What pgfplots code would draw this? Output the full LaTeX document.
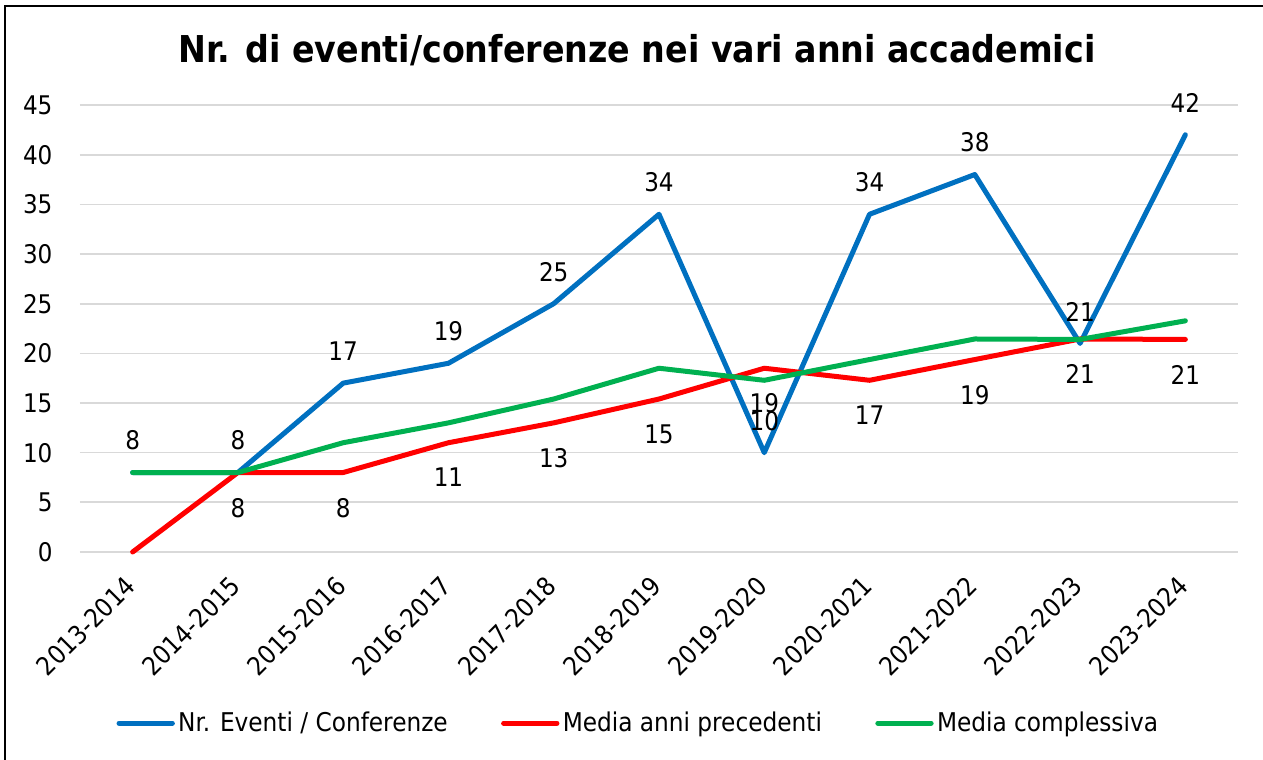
\documentclass[border=0pt]{standalone}
\usepackage{fontspec}
\setmainfont{DejaVu Sans Condensed}
\usepackage{pgfplots}
\pgfplotsset{compat=1.18}
\definecolor{cblue}{HTML}{0070C0}
\definecolor{cred}{HTML}{FF0000}
\definecolor{cgreen}{HTML}{00B050}
\definecolor{cgrid}{HTML}{D9D9D9}
\begin{document}
\begin{tikzpicture}[x=0.6pt,y=0.6pt]
\path[use as bounding box] (0,0) rectangle (1263,760);
\draw[line width=1.2pt] (5,0) -- (5,754) -- (1263,754);
\node[font=\fontsize{22.2}{26}\selectfont\bfseries] at (637,710) {Nr. di eventi/conferenze nei vari anni accademici};
\begin{axis}[
  at={(48pt,124.8pt)}, anchor=south west,
  scale only axis, width=694.8pt, height=268.2pt,
  xmin=-0.5, xmax=10.5, ymin=0, ymax=45,
  ytick={0,5,...,45},
  xtick={0,...,10},
  xticklabels={2013-2014,2014-2015,2015-2016,2016-2017,2017-2018,2018-2019,2019-2020,2020-2021,2021-2022,2022-2023,2023-2024},
  /pgf/number format/assume math mode=true,
  ticklabel style={font=\fontsize{15.4}{17}\selectfont},
  xticklabel style={rotate=45, anchor=north east, xshift=-10pt, yshift=-2.2pt},
  yticklabel style={xshift=-13pt},
  ymajorgrids, major grid style={draw=cgrid, line width=1pt},
  axis line style={draw=none}, major tick style={draw=none},
  clip=false,
  every axis plot/.append style={line width=3pt, line cap=round, line join=round},
  legend columns=3,
  legend style={at={(0.4827,-0.383)}, anchor=center, draw=none, fill=none,
    font=\fontsize{15.5}{17}\selectfont, /tikz/every even column/.append style={column sep=30pt}},
  legend image code/.code={\draw[#1, line width=3pt] (0pt,0pt) -- (32pt,0pt);},
  legend cell align=left,
  nodes near coords style={font=\fontsize{15.4}{17}\selectfont, text=black},
]
\addplot[color=cblue, point meta=explicit symbolic, nodes near coords,
  every node near coord/.append style={anchor=south, yshift=8.5pt}]
  coordinates {(0,8)[8] (1,8)[8] (2,17)[17] (3,19)[19] (4,25)[25] (5,34)[34] (6,10)[10] (7,34)[34] (8,38)[38] (9,21)[21] (10,42)[42]};
\addlegendentry{Nr. Eventi / Conferenze}
\addplot[color=cred]
  coordinates {(0,0) (1,8) (2,8) (3,11) (4,13) (5,15.4) (6,18.5) (7,17.286) (8,19.375) (9,21.444) (10,21.4)};
\addlegendentry{Media anni precedenti}
\addplot[color=cgreen]
  coordinates {(0,8) (1,8) (2,11) (3,13) (4,15.4) (5,18.5) (6,17.286) (7,19.375) (8,21.444) (9,21.4) (10,23.273)};
\addlegendentry{Media complessiva}
\addplot[draw=none, forget plot, point meta=explicit symbolic, nodes near coords,
  every node near coord/.append style={anchor=north, yshift=-10.5pt}]
  coordinates {(1,8)[8] (2,8)[8] (3,11)[11] (4,13)[13] (5,15.4)[15] (6,18.5)[19] (7,17.286)[17] (8,19.375)[19] (9,21.444)[21] (10,21.4)[21]};
\end{axis}
\end{tikzpicture}
\end{document}
